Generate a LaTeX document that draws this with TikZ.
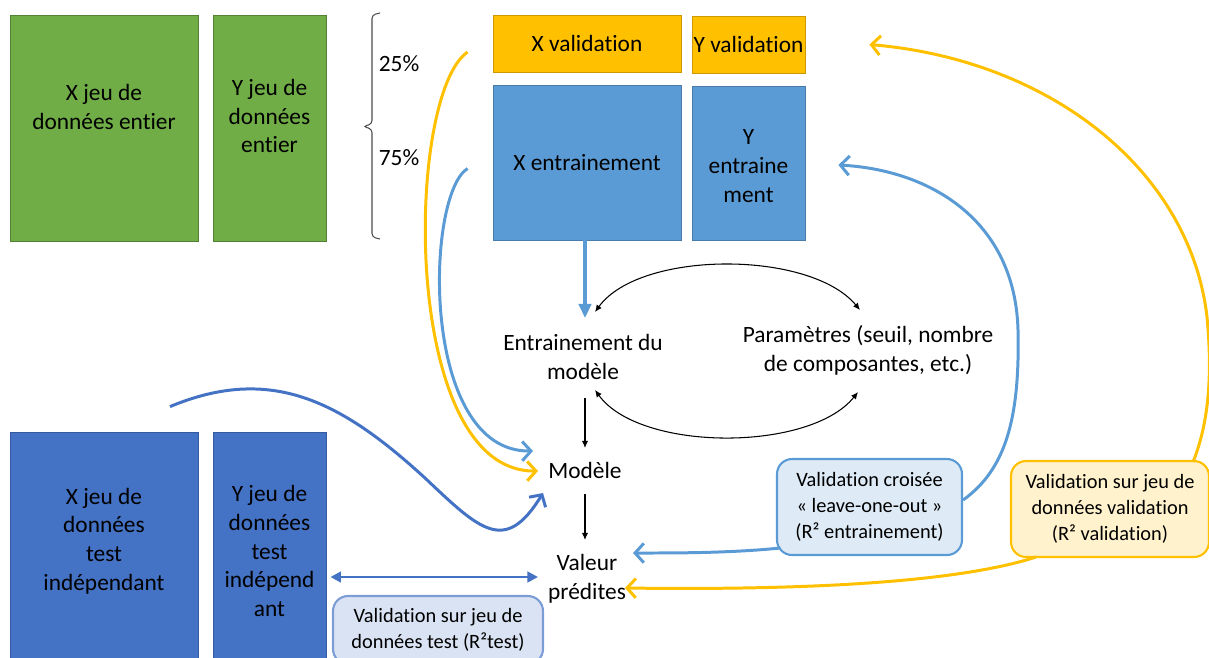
\documentclass[tikz,border=0pt]{standalone}
\usepackage{fontspec}
\setmainfont{Carlito}[Ligatures=NoCommon]
\usetikzlibrary{arrows.meta}

\definecolor{vert}{HTML}{70AD47}
\definecolor{jaune}{HTML}{FFC000}
\definecolor{bleuclair}{HTML}{5B9BD5}
\definecolor{bleufonce}{HTML}{4472C4}

\begin{document}
\begin{tikzpicture}[x=0.02cm, y=-0.02cm,
  bloc/.style={inner sep=0, align=center, line width=0.5pt, font=\fontsize{13.3}{16.4}\selectfont},
  texte/.style={inner sep=0, align=center, font=\fontsize{13.3}{16.4}\selectfont},
  bulle/.style={rounded corners=0.3cm, line width=1.2pt, inner sep=0, align=center, font=\fontsize{11.6}{14.7}\selectfont},
  courbe/.style={line width=1.7pt, -{Straight Barb[length=5pt,width=11pt]}},
  noir/.style={black, line width=0.6pt, -{Latex[length=4pt,width=3.5pt]}},
  noirdouble/.style={black, line width=0.6pt, {Latex[length=4pt,width=3.5pt]}-{Latex[length=4pt,width=3.5pt]}}
]
\useasboundingbox (0,0) rectangle (1209,657);

% jeux de donnees
\node[bloc, fill=vert, draw=vert!75!black, minimum width=3.76cm, minimum height=4.52cm] (xentier) at (104,128) {};
\node[texte] (xentiertxt) at (104,107) {X jeu de\\données entier};
\node[bloc, fill=vert, draw=vert!75!black, minimum width=2.26cm, minimum height=4.52cm] (yentier) at (269.5,128) {};
\node[texte] (yentiertxt) at (269.5,116) {Y jeu de\\données\\entier};
\node[bloc, fill=jaune, draw=jaune!80!black, minimum width=3.76cm, minimum height=1.14cm] (xval) at (587,43.5) {X validation};
\node[bloc, fill=jaune, draw=jaune!80!black, minimum width=2.26cm, minimum height=1.14cm] (yval) at (748.5,44.5) {Y validation};
\node[bloc, fill=bleuclair, draw=bleuclair!80!black, minimum width=3.76cm, minimum height=3.1cm] (xtrain) at (587,162.5) {X entrainement};
\node[bloc, fill=bleuclair, draw=bleuclair!80!black, minimum width=2.26cm, minimum height=3.08cm] (ytrain) at (748.5,163) {};
\node[texte] (ytraintxt) at (748.5,166) {Y\\entraine\\ment};
\node[bloc, fill=bleufonce, draw=bleufonce!80!black, minimum width=3.76cm, minimum height=4.76cm] (xtest) at (104,551) {};
\node[texte] (xtesttxt) at (104,541) {X jeu de\\données\\test\\indépendant};
\node[bloc, fill=bleufonce, draw=bleufonce!80!black, minimum width=2.26cm, minimum height=4.76cm] (ytest) at (269.5,551) {Y jeu de\\données\\test\\indépend\\ant};

% accolade
\draw[gray!60!black, line width=0.6pt, rounded corners=2pt] (380,13) -- (372,15) -- (372,124) -- (363,126.5) -- (372,129) -- (372,237) -- (380,239);
\node[texte] (p25) at (399,64) {25\%};
\node[texte] (p75) at (399,158) {75\%};

\node[texte] (entr) at (583,357) {Entrainement du\\modèle};
\node[texte] (param) at (868,350) {Paramètres (seuil, nombre\\de composantes, etc.)};
\node[texte] (modele) at (585,470) {Modèle};
\node[texte] (valeur) at (587,579) {Valeur\\prédites};

\node[bulle, fill=bleufonce!20, draw=bleufonce!70, minimum width=4.2cm, minimum height=1.36cm] (bvtest) at (438,630) {Validation sur jeu de\\données test (R²test)};
\node[bulle, fill=bleuclair!20, draw=bleuclair, minimum width=3.7cm, minimum height=1.92cm] (bcroise) at (869.5,507) {Validation croisée\\« leave-one-out  »\\(R² entrainement)};
\node[bulle, fill=jaune!20, draw=jaune, minimum width=3.96cm, minimum height=1.92cm] (bvalid) at (1110,509) {Validation sur jeu de\\données validation\\(R² validation)};

\draw[bleuclair, line width=2pt, -{Triangle[length=8pt,width=7pt]}] ([shift={(-2,0)}]xtrain.south) -- ([shift={(2,-39)}]entr.center);
\draw[noir] ([shift={(2,41)}]entr.center) -- ([shift={(0,-22)}]modele.center);
\draw[noir] ([shift={(0,24)}]modele.center) -- ([shift={(-2,-39)}]valeur.center);
\draw[noirdouble] ([shift={(12,-45)}]entr.center) .. controls (640,250) and (810,250) .. ([shift={(-8,-40)}]param.center);
\draw[noirdouble] ([shift={(12,33)}]entr.center) .. controls (640,452) and (810,452) .. ([shift={(-10,42)}]param.center);

\draw[courbe, bleuclair] ([shift={(-25,6)}]xtrain.west) .. controls (425,195) and (420,452) .. ([shift={(-52,-19)}]modele.center);
\draw[courbe, jaune] ([shift={(-25,8.5)}]xval.west) .. controls (405,95) and (400,472) .. ([shift={(-47,1)}]modele.center);
\draw[courbe, bleufonce] ([shift={(66,-25)}]xtest.north) .. controls (270,365) and (340,400) .. (425,478) .. controls (480,530) and (505,555) .. ([shift={(-42,23)}]modele.center);
\draw[bleufonce, line width=1.5pt, {Triangle[length=6pt,width=6pt]}-{Triangle[length=6pt,width=6pt]}] ([shift={(4,26)}]ytest.east) -- ([shift={(-49,-2)}]valeur.center);

\draw[courbe, bleuclair] ([shift={(0,-7)}]bcroise.east) .. controls (1005,470) and (1020,420) .. (1018,330) .. controls (1015,220) and (930,170) .. ([shift={(33,2)}]ytrain.east);
\draw[courbe, bleuclair] ([shift={(-89,41)}]bcroise.center) .. controls (730,553) and (680,553) .. ([shift={(46,-26)}]valeur.center);
\draw[courbe, jaune] ([shift={(83,-47)}]bvalid.center) .. controls (1210,420) and (1212,370) .. (1207,317) .. controls (1190,170) and (1050,60) .. ([shift={(64,0)}]yval.east);
\draw[courbe, jaune] ([shift={(-74,48)}]bvalid.center) .. controls (950,585) and (780,590) .. ([shift={(38,9)}]valeur.center);
\end{tikzpicture}
\end{document}
